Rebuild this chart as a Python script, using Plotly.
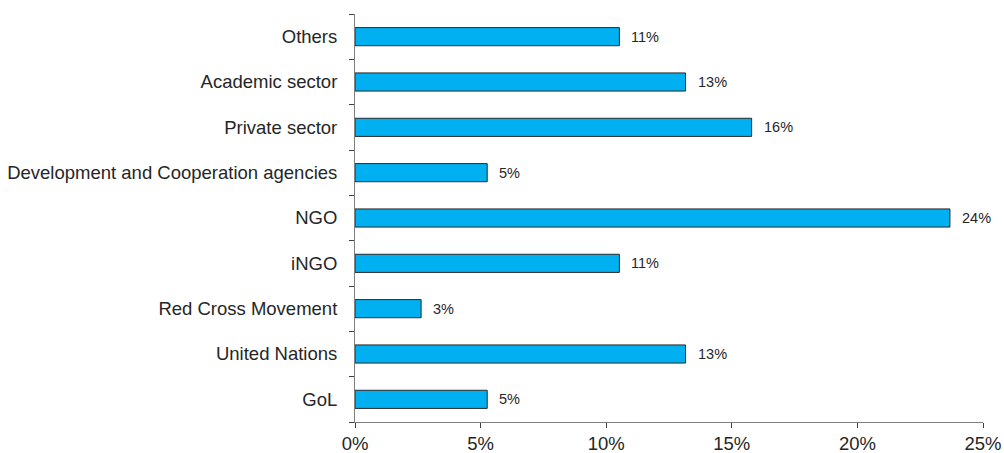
import plotly.graph_objects as go

categories = ["GoL", "United Nations", "Red Cross Movement", "iNGO", "NGO",
              "Development and Cooperation agencies", "Private sector",
              "Academic sector", "Others"]
counts = [2, 5, 1, 4, 9, 2, 6, 5, 4]
total = 38
shares = [c / total for c in counts]
labels = [f"{round(s * 100):.0f}%" for s in shares]
x_ticks = [0, 0.05, 0.10, 0.15, 0.20, 0.25]
x_tick_labels = ["0%", "5%", "10%", "15%", "20%", "25%"]

FONT = "Liberation Sans, Arial, sans-serif"

fig = go.Figure()
fig.add_trace(go.Bar(
    y=categories, x=shares, orientation="h",
    marker=dict(color="#00B0F0", line=dict(color="#2a2a2a", width=1)),
    width=0.4, hoverinfo="skip",
))
for cat, s, lab in zip(categories, shares, labels):
    fig.add_annotation(x=s, y=cat, text=lab, showarrow=False,
                       xanchor="left", xshift=10,
                       font=dict(family=FONT, size=14.5, color="#262626"))

fig.update_layout(
    width=1004, height=453,
    margin=dict(l=355, r=21, t=14, b=31, autoexpand=False),
    plot_bgcolor="white", paper_bgcolor="white",
    showlegend=False,
    font=dict(family=FONT, size=18.5, color="#262626"),
    xaxis=dict(range=[0, 0.25], tickvals=x_ticks, ticktext=x_tick_labels,
               showgrid=False, zeroline=False, showline=True, linecolor="#808080",
               linewidth=1, ticks="outside", ticklen=5, tickcolor="#404040",
               tickfont=dict(size=18.5), automargin=False),
    yaxis=dict(categoryorder="array", categoryarray=categories,
               showgrid=False, zeroline=False, showline=True, linecolor="#808080",
               linewidth=1, ticks="outside", ticklen=5, tickcolor="#404040",
               tickson="boundaries", ticklabelstandoff=13,
               tickfont=dict(size=18.5), automargin=False),
)
fig.write_html("out.html", config={"displayModeBar": False},
               post_script="document.body.style.margin='0';document.body.style.overflow='hidden';")
